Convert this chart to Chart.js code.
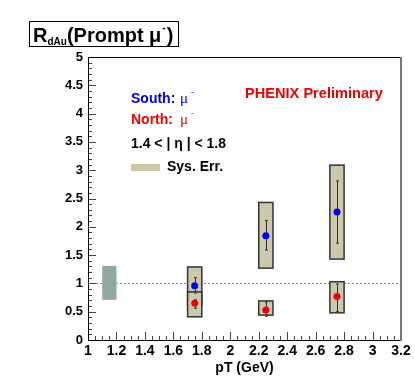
<!DOCTYPE html>
<html>
<head>
<meta charset="utf-8">
<title>RdAu prompt muon</title>
<script src="https://cdn.jsdelivr.net/npm/chart.js@4/dist/chart.umd.min.js"></script>
<style>
	body { margin: 0; background: #fff; }
</style>
</head>
<body>
<canvas id="chart" width="415" height="389"></canvas>
<script>
// South arm (mu-)
const ptSouth = [1.75, 2.25, 2.75];
const rdauSouth = [0.96, 1.84, 2.26];
const statLoSouth = [0.83, 1.59, 1.71];
const statHiSouth = [1.10, 2.11, 2.81];
const sysLoSouth = [0.62, 1.27, 1.43];
const sysHiSouth = [1.29, 2.43, 3.09];

// North arm (mu-)
const ptNorth = [1.75, 2.25, 2.75];
const rdauNorth = [0.65, 0.53, 0.77];
const statLoNorth = [0.56, 0.42, 0.50];
const statHiNorth = [0.71, 0.67, 0.99];
const sysLoNorth = [0.41, 0.44, 0.48];
const sysHiNorth = [0.85, 0.69, 1.03];

// global normalisation uncertainty box
const normPt = [1.1, 1.2];
const normRange = [0.71, 1.31];

const xTicks = [1, 1.2, 1.4, 1.6, 1.8, 2, 2.2, 2.4, 2.6, 2.8, 3, 3.2];
const yTicks = [0, 0.5, 1, 1.5, 2, 2.5, 3, 3.5, 4, 4.5, 5];

const boxHalfWidth = 0.05;
const sysColor = '#cdc7ab';
const normColor = '#8fa8a0';
const font = '"Liberation Sans", Arial, sans-serif';

function toPoints(xs, ys) {
	let out = [];
	for (let i = 0; i < xs.length; i++) {
		out.push({ x: xs[i], y: ys[i] });
	}
	return out;
}

function drawSysBoxes(ctx, xs, lo, hi, sx, sy) {
	for (let i = 0; i < xs.length; i++) {
		let x0 = sx.getPixelForValue(xs[i] - boxHalfWidth);
		let x1 = sx.getPixelForValue(xs[i] + boxHalfWidth);
		let y0 = sy.getPixelForValue(hi[i]);
		let y1 = sy.getPixelForValue(lo[i]);
		ctx.fillStyle = sysColor;
		ctx.fillRect(x0, y0, x1 - x0, y1 - y0);
		ctx.strokeStyle = '#333';
		ctx.lineWidth = 1.5;
		ctx.strokeRect(x0, y0, x1 - x0, y1 - y0);
	}
}

function drawStatBars(ctx, xs, lo, hi, sx, sy) {
	ctx.strokeStyle = '#333';
	ctx.lineWidth = 1;
	for (let i = 0; i < xs.length; i++) {
		let x = Math.round(sx.getPixelForValue(xs[i])) + 0.5;
		let y0 = sy.getPixelForValue(hi[i]);
		let y1 = sy.getPixelForValue(lo[i]);
		ctx.beginPath();
		ctx.moveTo(x, y0);
		ctx.lineTo(x, y1);
		ctx.moveTo(x - 1.5, y0);
		ctx.lineTo(x + 1.5, y0);
		ctx.moveTo(x - 1.5, y1);
		ctx.lineTo(x + 1.5, y1);
		ctx.stroke();
	}
}

function drawTicks(ctx, chart) {
	let sx = chart.scales.x;
	let sy = chart.scales.y;
	let area = chart.chartArea;
	ctx.strokeStyle = '#444';
	ctx.lineWidth = 1;
	ctx.beginPath();
	for (let k = 0; k <= 50; k++) {
		let y = Math.round(sy.getPixelForValue(k * 0.1)) + 0.5;
		let len = (k % 5 === 0) ? 8 : 4;
		ctx.moveTo(area.left, y);
		ctx.lineTo(area.left + len, y);
	}
	for (let k = 0; k <= 44; k++) {
		let x = Math.round(sx.getPixelForValue(1 + k * 0.05)) + 0.5;
		let len = (k % 4 === 0) ? 8 : 4;
		ctx.moveTo(x, area.bottom);
		ctx.lineTo(x, area.bottom - len);
	}
	ctx.stroke();
}

function drawLabels(ctx) {
	ctx.textBaseline = 'alphabetic';
	ctx.textAlign = 'left';

	// title box
	ctx.fillStyle = '#fff';
	ctx.fillRect(29, 21, 149, 25);
	ctx.strokeStyle = '#000';
	ctx.lineWidth = 1;
	ctx.strokeRect(29.5, 21.5, 149, 25);

	ctx.fillStyle = '#000';
	let x = 33;
	ctx.font = 'bold 20px ' + font;
	ctx.fillText('R', x, 42);
	x += ctx.measureText('R').width;
	ctx.font = 'bold 10px ' + font;
	ctx.fillText('dAu', x, 45);
	x += ctx.measureText('dAu').width;
	ctx.font = 'bold 20px ' + font;
	ctx.fillText('(Prompt \u03bc', x, 42);
	x += ctx.measureText('(Prompt \u03bc').width;
	ctx.font = 'bold 10px ' + font;
	ctx.fillText('-', x + 1, 31);
	x += ctx.measureText('-').width + 2;
	ctx.font = 'bold 20px ' + font;
	ctx.fillText(')', x, 42);

	// legend
	ctx.font = 'bold 14px ' + font;
	ctx.fillStyle = '#0000ee';
	ctx.fillText('South:', 131, 103);
	ctx.fillStyle = '#ee0000';
	ctx.fillText('North:', 131, 124);
	ctx.font = '15px "Liberation Serif", serif';
	ctx.fillStyle = '#0000ee';
	ctx.fillText('\u03bc', 180, 103);
	ctx.fillStyle = '#ee0000';
	ctx.fillText('\u03bc', 180, 124);
	ctx.font = '9px ' + font;
	ctx.fillStyle = '#0000ee';
	ctx.fillText('-', 191, 95);
	ctx.fillStyle = '#ee0000';
	ctx.fillText('-', 191, 116);

	ctx.font = 'bold 14px ' + font;
	ctx.fillStyle = '#000';
	ctx.fillText('1.4 < | \u03b7 | < 1.8', 131, 148);
	ctx.fillStyle = sysColor;
	ctx.fillRect(131, 164, 29, 7);
	ctx.fillStyle = '#000';
	ctx.fillText('Sys. Err.', 167, 171);

	ctx.font = 'bold 14.6px ' + font;
	ctx.fillStyle = '#ee0000';
	ctx.fillText('PHENIX Preliminary', 245, 98);
}

const rdauPlugin = {
	id: 'rdau',
	beforeDatasetsDraw(chart) {
		let ctx = chart.ctx;
		let sx = chart.scales.x;
		let sy = chart.scales.y;
		let area = chart.chartArea;
		ctx.save();

		// unity reference line
		ctx.strokeStyle = '#888';
		ctx.lineWidth = 1;
		ctx.setLineDash([2, 2]);
		let y1 = Math.round(sy.getPixelForValue(1)) + 0.5;
		ctx.beginPath();
		ctx.moveTo(sx.getPixelForValue(1), y1);
		ctx.lineTo(sx.getPixelForValue(3.2), y1);
		ctx.stroke();
		ctx.setLineDash([]);

		let nx0 = sx.getPixelForValue(normPt[0]);
		let nx1 = sx.getPixelForValue(normPt[1]);
		let ny0 = sy.getPixelForValue(normRange[1]);
		let ny1 = sy.getPixelForValue(normRange[0]);
		ctx.fillStyle = normColor;
		ctx.fillRect(nx0, ny0, nx1 - nx0, ny1 - ny0);

		drawSysBoxes(ctx, ptSouth, sysLoSouth, sysHiSouth, sx, sy);
		drawSysBoxes(ctx, ptNorth, sysLoNorth, sysHiNorth, sx, sy);
		drawStatBars(ctx, ptSouth, statLoSouth, statHiSouth, sx, sy);
		drawStatBars(ctx, ptNorth, statLoNorth, statHiNorth, sx, sy);

		// frame
		drawTicks(ctx, chart);
		ctx.strokeStyle = '#000';
		ctx.lineWidth = 1;
		ctx.strokeRect(area.left + 0.5, area.top + 0.5, area.right - area.left - 1, area.bottom - area.top);
		ctx.strokeStyle = '#777';
		ctx.lineWidth = 2;
		ctx.beginPath();
		ctx.moveTo(area.right, area.top);
		ctx.lineTo(area.right, area.bottom + 1);
		ctx.stroke();

		ctx.restore();
	},
	afterDraw(chart) {
		let ctx = chart.ctx;
		ctx.save();
		drawLabels(ctx);
		ctx.restore();
	}
};

function tickText(value) {
	return String(Math.round(value * 100) / 100);
}

const ctx = document.getElementById('chart');
new Chart(ctx, {
	type: 'scatter',
	data: {
		datasets: [{
			label: 'South',
			data: toPoints(ptSouth, rdauSouth),
			backgroundColor: '#0000ee',
			borderColor: '#0000ee',
			pointRadius: 3.5,
			borderWidth: 0,
		}, {
			label: 'North',
			data: toPoints(ptNorth, rdauNorth),
			backgroundColor: '#ee0000',
			borderColor: '#ee0000',
			pointRadius: 3.5,
			borderWidth: 0,
		}]
	},
	options: {
		responsive: false,
		animation: false,
		devicePixelRatio: 1,
		layout: {
			padding: { top: 57, right: 14, left: 0, bottom: 0 }
		},
		plugins: {
			legend: { display: false },
			tooltip: { enabled: false },
		},
		scales: {
			x: {
				type: 'linear',
				min: 1,
				max: 3.2,
				afterBuildTicks: (scale) => {
					scale.ticks = xTicks.map(v => ({ value: v }));
				},
				afterFit: (scale) => { scale.height = 49; },
				grid: { display: false, drawTicks: false },
				border: { display: false },
				ticks: {
					callback: tickText,
					color: '#000',
					padding: 3,
					maxRotation: 0,
					autoSkip: false,
					font: { family: font, size: 14, weight: 'bold' },
				},
				title: {
					display: true,
					text: 'pT (GeV)',
					color: '#000',
					font: { family: font, size: 14, weight: 'bold' },
					padding: { top: 0, bottom: 12 },
				},
			},
			y: {
				type: 'linear',
				min: 0,
				max: 5,
				afterBuildTicks: (scale) => {
					scale.ticks = yTicks.map(v => ({ value: v }));
				},
				afterFit: (scale) => { scale.width = 88; },
				grid: { display: false, drawTicks: false },
				border: { display: false },
				ticks: {
					callback: tickText,
					color: '#000',
					padding: 5,
					autoSkip: false,
					font: { family: font, size: 13, weight: 'bold' },
				},
			}
		}
	},
	plugins: [rdauPlugin],
});
</script>
</body>
</html>
